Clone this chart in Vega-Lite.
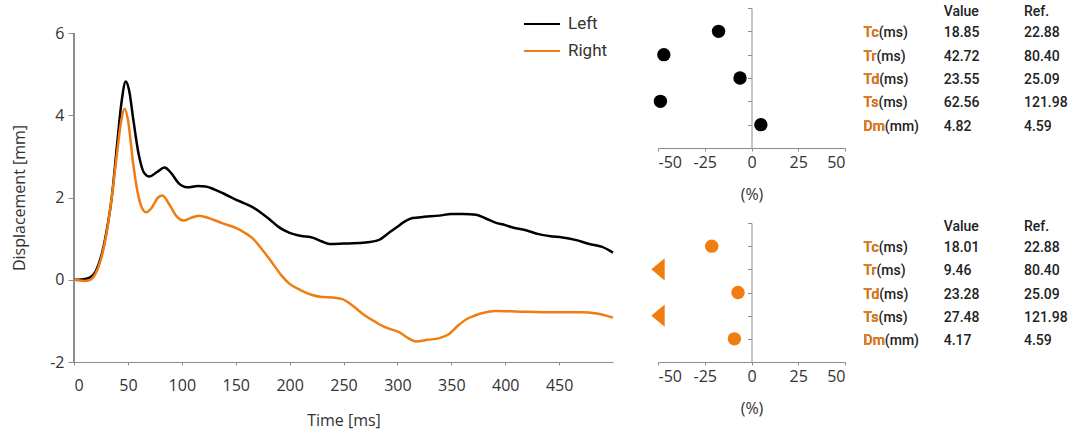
{
  "$schema": "https://vega.github.io/schema/vega-lite/v6.json",
  "padding": {"left": 11, "top": 5, "right": 0, "bottom": 2},
  "config": {
    "view": {"stroke": null},
    "font": "Open Sans",
    "axis": {
      "grid": false,
      "domainColor": "#8c8c8c",
      "tickColor": "#8c8c8c",
      "labelColor": "#333333",
      "labelFont": "Open Sans",
      "labelFontSize": 16,
      "titleFont": "Open Sans",
      "titleFontSize": 16,
      "titleFontWeight": "normal",
      "titleColor": "#333333",
      "labelExpr": "datum.value < 0 ? '-' + abs(datum.value) : '' + datum.value"
    },
    "text": {"font": "Roboto", "fontSize": 14, "fontWeight": 500}
  },
  "datasets": {
    "curves": [
      {"t": 0, "v": 0, "side": "Left"}, {"t": 5, "v": 0, "side": "Left"}, {"t": 10, "v": 0.02, "side": "Left"}, {"t": 15, "v": 0.06, "side": "Left"},
      {"t": 20, "v": 0.2, "side": "Left"}, {"t": 25, "v": 0.55, "side": "Left"}, {"t": 30, "v": 1.15, "side": "Left"}, {"t": 35, "v": 2.0, "side": "Left"},
      {"t": 40, "v": 3.3, "side": "Left"}, {"t": 44, "v": 4.3, "side": "Left"}, {"t": 48, "v": 4.82, "side": "Left"}, {"t": 51, "v": 4.62, "side": "Left"},
      {"t": 55, "v": 3.9, "side": "Left"}, {"t": 60, "v": 3.05, "side": "Left"}, {"t": 65, "v": 2.6, "side": "Left"}, {"t": 70, "v": 2.51, "side": "Left"},
      {"t": 77, "v": 2.62, "side": "Left"}, {"t": 84, "v": 2.73, "side": "Left"}, {"t": 90, "v": 2.6, "side": "Left"}, {"t": 97, "v": 2.35, "side": "Left"},
      {"t": 105, "v": 2.25, "side": "Left"}, {"t": 115, "v": 2.28, "side": "Left"}, {"t": 122, "v": 2.27, "side": "Left"}, {"t": 130, "v": 2.2, "side": "Left"},
      {"t": 140, "v": 2.08, "side": "Left"}, {"t": 150, "v": 1.95, "side": "Left"}, {"t": 158, "v": 1.86, "side": "Left"}, {"t": 166, "v": 1.76, "side": "Left"},
      {"t": 174, "v": 1.62, "side": "Left"}, {"t": 181, "v": 1.48, "side": "Left"}, {"t": 190, "v": 1.28, "side": "Left"}, {"t": 200, "v": 1.14, "side": "Left"},
      {"t": 210, "v": 1.07, "side": "Left"}, {"t": 222, "v": 1.02, "side": "Left"}, {"t": 230, "v": 0.93, "side": "Left"}, {"t": 237, "v": 0.87, "side": "Left"},
      {"t": 250, "v": 0.88, "side": "Left"}, {"t": 268, "v": 0.9, "side": "Left"}, {"t": 283, "v": 0.97, "side": "Left"}, {"t": 291, "v": 1.12, "side": "Left"},
      {"t": 299, "v": 1.27, "side": "Left"}, {"t": 307, "v": 1.42, "side": "Left"}, {"t": 314, "v": 1.5, "side": "Left"}, {"t": 325, "v": 1.53, "side": "Left"},
      {"t": 339, "v": 1.56, "side": "Left"}, {"t": 350, "v": 1.6, "side": "Left"}, {"t": 361, "v": 1.6, "side": "Left"}, {"t": 373, "v": 1.58, "side": "Left"},
      {"t": 382, "v": 1.49, "side": "Left"}, {"t": 391, "v": 1.39, "side": "Left"}, {"t": 400, "v": 1.33, "side": "Left"}, {"t": 407, "v": 1.27, "side": "Left"},
      {"t": 420, "v": 1.2, "side": "Left"}, {"t": 431, "v": 1.11, "side": "Left"}, {"t": 442, "v": 1.06, "side": "Left"}, {"t": 453, "v": 1.03, "side": "Left"},
      {"t": 465, "v": 0.97, "side": "Left"}, {"t": 478, "v": 0.87, "side": "Left"}, {"t": 490, "v": 0.8, "side": "Left"}, {"t": 500, "v": 0.66, "side": "Left"},
      {"t": 0, "v": 0, "side": "Right"}, {"t": 5, "v": -0.02, "side": "Right"}, {"t": 10, "v": -0.03, "side": "Right"}, {"t": 15, "v": 0.0, "side": "Right"},
      {"t": 20, "v": 0.15, "side": "Right"}, {"t": 25, "v": 0.5, "side": "Right"}, {"t": 30, "v": 1.1, "side": "Right"}, {"t": 35, "v": 2.0, "side": "Right"},
      {"t": 40, "v": 3.1, "side": "Right"}, {"t": 44, "v": 3.9, "side": "Right"}, {"t": 47, "v": 4.16, "side": "Right"}, {"t": 50, "v": 3.9, "side": "Right"},
      {"t": 55, "v": 2.8, "side": "Right"}, {"t": 60, "v": 2.0, "side": "Right"}, {"t": 64, "v": 1.7, "side": "Right"}, {"t": 67, "v": 1.64, "side": "Right"},
      {"t": 72, "v": 1.75, "side": "Right"}, {"t": 78, "v": 2.0, "side": "Right"}, {"t": 82, "v": 2.05, "side": "Right"}, {"t": 88, "v": 1.85, "side": "Right"},
      {"t": 95, "v": 1.55, "side": "Right"}, {"t": 102, "v": 1.44, "side": "Right"}, {"t": 108, "v": 1.5, "side": "Right"}, {"t": 116, "v": 1.56, "side": "Right"},
      {"t": 125, "v": 1.5, "side": "Right"}, {"t": 138, "v": 1.37, "side": "Right"}, {"t": 150, "v": 1.26, "side": "Right"}, {"t": 158, "v": 1.15, "side": "Right"},
      {"t": 166, "v": 1.0, "side": "Right"}, {"t": 175, "v": 0.72, "side": "Right"}, {"t": 184, "v": 0.41, "side": "Right"}, {"t": 192, "v": 0.12, "side": "Right"},
      {"t": 200, "v": -0.1, "side": "Right"}, {"t": 210, "v": -0.25, "side": "Right"}, {"t": 221, "v": -0.37, "side": "Right"}, {"t": 230, "v": -0.42, "side": "Right"},
      {"t": 240, "v": -0.43, "side": "Right"}, {"t": 249, "v": -0.47, "side": "Right"}, {"t": 258, "v": -0.62, "side": "Right"}, {"t": 268, "v": -0.83, "side": "Right"},
      {"t": 280, "v": -1.03, "side": "Right"}, {"t": 289, "v": -1.16, "side": "Right"}, {"t": 302, "v": -1.28, "side": "Right"}, {"t": 310, "v": -1.42, "side": "Right"},
      {"t": 317, "v": -1.5, "side": "Right"}, {"t": 328, "v": -1.46, "side": "Right"}, {"t": 339, "v": -1.42, "side": "Right"}, {"t": 348, "v": -1.32, "side": "Right"},
      {"t": 356, "v": -1.12, "side": "Right"}, {"t": 364, "v": -0.96, "side": "Right"}, {"t": 372, "v": -0.87, "side": "Right"}, {"t": 379, "v": -0.81, "side": "Right"},
      {"t": 391, "v": -0.76, "side": "Right"}, {"t": 410, "v": -0.77, "side": "Right"}, {"t": 440, "v": -0.79, "side": "Right"}, {"t": 470, "v": -0.79, "side": "Right"},
      {"t": 485, "v": -0.82, "side": "Right"}, {"t": 500, "v": -0.92, "side": "Right"}
    ],
    "left": [
      {"metric": "Tc", "label": "Tc(ms)", "value": 18.85, "ref": 22.88, "pct": -17.61, "flag": "in"},
      {"metric": "Tr", "label": "Tr(ms)", "value": 42.72, "ref": 80.40, "pct": -46.87, "flag": "in"},
      {"metric": "Td", "label": "Td(ms)", "value": 23.55, "ref": 25.09, "pct": -6.14, "flag": "in"},
      {"metric": "Ts", "label": "Ts(ms)", "value": 62.56, "ref": 121.98, "pct": -48.71, "flag": "in"},
      {"metric": "Dm", "label": "Dm(mm)", "value": 4.82, "ref": 4.59, "pct": 5.01, "flag": "in"}
    ],
    "right": [
      {"metric": "Tc", "label": "Tc(ms)", "value": 18.01, "ref": 22.88, "pct": -21.28, "flag": "in"},
      {"metric": "Tr", "label": "Tr(ms)", "value": 9.46, "ref": 80.40, "pct": -88.23, "flag": "below"},
      {"metric": "Td", "label": "Td(ms)", "value": 23.28, "ref": 25.09, "pct": -7.21, "flag": "in"},
      {"metric": "Ts", "label": "Ts(ms)", "value": 27.48, "ref": 121.98, "pct": -77.47, "flag": "below"},
      {"metric": "Dm", "label": "Dm(mm)", "value": 4.17, "ref": 4.59, "pct": -9.15, "flag": "in"}
    ],
    "header": [
      {"col": "value", "text": "Value"},
      {"col": "ref", "text": "Ref."}
    ]
  },
  "bounds": "flush",
  "spacing": 45,
  "hconcat": [
    {
      "width": 539,
      "height": 354,
      "data": {"name": "curves"},
      "layer": [
        {
          "mark": {"type": "rule", "color": "#8c8c8c", "strokeWidth": 1},
          "encoding": {
            "x": {"datum": 0, "type": "quantitative"},
            "y": {"datum": -2, "type": "quantitative"},
            "y2": {"datum": 6}
          }
        },
        {
          "mark": {"type": "line", "strokeWidth": 2.5, "interpolate": "monotone"},
          "encoding": {
            "x": {
              "field": "t", "type": "quantitative",
              "scale": {"domain": [0, 500], "nice": false, "zero": false},
              "axis": {"values": [0, 50, 100, 150, 200, 250, 300, 350, 400, 450], "tickSize": 3, "labelPadding": 12, "title": "Time [ms]", "titlePadding": 19}
            },
            "y": {
              "field": "v", "type": "quantitative",
              "scale": {"domain": [-2, 6.61], "nice": false, "zero": false},
              "axis": {"values": [-2, 0, 2, 4, 6], "domain": false, "tickSize": 6, "labelPadding": 4, "title": "Displacement [mm]", "titlePadding": 22, "titleY": 189.5}
            },
            "color": {
              "field": "side", "type": "nominal",
              "scale": {"domain": ["Left", "Right"], "range": ["#000000", "#EF7D0F"]},
              "legend": {
                "orient": "none", "legendX": 458, "legendY": 6, "title": null,
                "symbolType": "M-2,0H2", "symbolSize": 324, "symbolStrokeWidth": 2,
                "labelFont": "Roboto", "labelFontSize": 17, "labelColor": "#333333",
                "labelOffset": 16, "rowPadding": 9, "padding": 0
              }
            }
          }
        }
      ]
    },
    {
      "bounds": "flush",
      "spacing": 75,
      "vconcat": [
        {
          "width": 187, "height": 140,
          "data": {"name": "left"},
          "mark": {"type": "point", "filled": true, "size": 180, "opacity": 1, "color": "#000000"},
          "encoding": {
            "x": {"field": "pct", "type": "quantitative", "scale": {"domain": [-50, 50], "clamp": true, "nice": false},
                  "axis": {"values": [-50, -25, 0, 25, 50], "tickSize": 3, "labelPadding": 3, "title": "(%)", "titlePadding": 16}},
            "y": {"field": "metric", "type": "nominal", "scale": {"type": "point", "domain": ["_top", "Tc", "Tr", "Td", "Ts", "Dm", "_bot"], "padding": 0},
                  "axis": {"orient": "left", "offset": -93.5, "labels": false, "title": null, "tickSize": 4}},
            "shape": {"field": "flag", "type": "nominal", "scale": {"domain": ["in", "below"], "range": ["circle", "M1,-1.65L-1,0L1,1.65Z"]}, "legend": null}
          }
        },
        {
          "width": 187, "height": 139,
          "data": {"name": "right"},
          "mark": {"type": "point", "filled": true, "size": 180, "opacity": 1, "color": "#EF7D0F"},
          "encoding": {
            "x": {"field": "pct", "type": "quantitative", "scale": {"domain": [-50, 50], "clamp": true, "nice": false},
                  "axis": {"values": [-50, -25, 0, 25, 50], "tickSize": 3, "labelPadding": 3, "title": "(%)", "titlePadding": 16}},
            "y": {"field": "metric", "type": "nominal", "scale": {"type": "point", "domain": ["_top", "Tc", "Tr", "Td", "Ts", "Dm", "_bot"], "padding": 0},
                  "axis": {"orient": "left", "offset": -93.5, "labels": false, "title": null, "tickSize": 4}},
            "shape": {"field": "flag", "type": "nominal", "scale": {"domain": ["in", "below"], "range": ["circle", "M1,-1.65L-1,0L1,1.65Z"]}, "legend": null}
          }
        }
      ]
    },
    {
      "bounds": "flush",
      "spacing": 75,
      "vconcat": [
        {
          "width": 321, "height": 140,
          "layer": [
            {
              "data": {"name": "header"},
              "mark": {"type": "text", "align": "left", "baseline": "middle", "dy": 4, "color": "#222222"},
              "encoding": {
                "x": {"field": "col", "type": "nominal", "scale": {"type": "point", "domain": ["label", "value", "ref"], "padding": 1.098, "align": 1}, "axis": null},
                "y": {"datum": "_top", "type": "nominal", "scale": {"type": "point", "domain": ["_top", "Tc", "Tr", "Td", "Ts", "Dm", "_bot"], "padding": 0}, "axis": null},
                "text": {"field": "text"}
              }
            },
            {
              "data": {"name": "left"},
              "mark": {"type": "text", "align": "left", "baseline": "middle", "dy": 2, "color": "#222222"},
              "encoding": {
                "x": {"datum": "label", "type": "nominal"},
                "y": {"field": "metric", "type": "nominal"},
                "text": {"field": "label"}
              }
            },
            {
              "data": {"name": "left"},
              "mark": {"type": "text", "align": "left", "baseline": "middle", "dy": 2, "color": "#EF7D0F"},
              "encoding": {
                "x": {"datum": "label", "type": "nominal"},
                "y": {"field": "metric", "type": "nominal"},
                "text": {"field": "metric"}
              }
            },
            {
              "data": {"name": "left"},
              "mark": {"type": "text", "align": "left", "baseline": "middle", "dy": 2, "color": "#222222"},
              "encoding": {
                "x": {"datum": "value", "type": "nominal"},
                "y": {"field": "metric", "type": "nominal"},
                "text": {"field": "value", "format": ".2f"}
              }
            },
            {
              "data": {"name": "left"},
              "mark": {"type": "text", "align": "left", "baseline": "middle", "dy": 2, "color": "#222222"},
              "encoding": {
                "x": {"datum": "ref", "type": "nominal"},
                "y": {"field": "metric", "type": "nominal"},
                "text": {"field": "ref", "format": ".2f"}
              }
            }
          ]
        },
        {
          "width": 321, "height": 139,
          "layer": [
            {
              "data": {"name": "header"},
              "mark": {"type": "text", "align": "left", "baseline": "middle", "dy": 4, "color": "#222222"},
              "encoding": {
                "x": {"field": "col", "type": "nominal", "scale": {"type": "point", "domain": ["label", "value", "ref"], "padding": 1.098, "align": 1}, "axis": null},
                "y": {"datum": "_top", "type": "nominal", "scale": {"type": "point", "domain": ["_top", "Tc", "Tr", "Td", "Ts", "Dm", "_bot"], "padding": 0}, "axis": null},
                "text": {"field": "text"}
              }
            },
            {
              "data": {"name": "right"},
              "mark": {"type": "text", "align": "left", "baseline": "middle", "dy": 2, "color": "#222222"},
              "encoding": {
                "x": {"datum": "label", "type": "nominal"},
                "y": {"field": "metric", "type": "nominal"},
                "text": {"field": "label"}
              }
            },
            {
              "data": {"name": "right"},
              "mark": {"type": "text", "align": "left", "baseline": "middle", "dy": 2, "color": "#EF7D0F"},
              "encoding": {
                "x": {"datum": "label", "type": "nominal"},
                "y": {"field": "metric", "type": "nominal"},
                "text": {"field": "metric"}
              }
            },
            {
              "data": {"name": "right"},
              "mark": {"type": "text", "align": "left", "baseline": "middle", "dy": 2, "color": "#222222"},
              "encoding": {
                "x": {"datum": "value", "type": "nominal"},
                "y": {"field": "metric", "type": "nominal"},
                "text": {"field": "value", "format": ".2f"}
              }
            },
            {
              "data": {"name": "right"},
              "mark": {"type": "text", "align": "left", "baseline": "middle", "dy": 2, "color": "#222222"},
              "encoding": {
                "x": {"datum": "ref", "type": "nominal"},
                "y": {"field": "metric", "type": "nominal"},
                "text": {"field": "ref", "format": ".2f"}
              }
            }
          ]
        }
      ]
    }
  ]
}
